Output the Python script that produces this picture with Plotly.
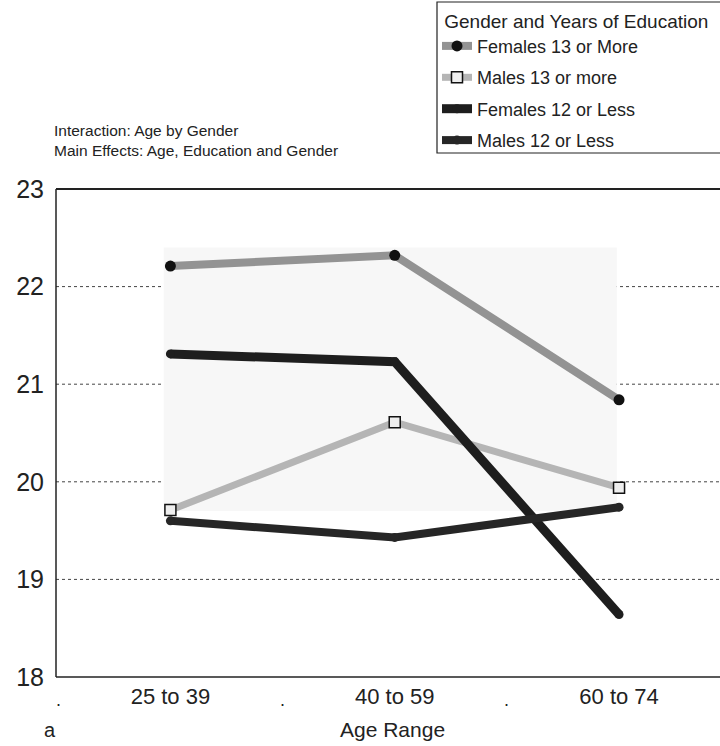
import plotly.graph_objects as go

# Age groups on the x axis
age_groups = ["25 to 39", "40 to 59", "60 to 74"]

# Mean scores per gender / education group
females_13_more = [22.21, 22.32, 20.84]
males_13_more = [19.71, 20.61, 19.94]
females_12_less = [21.31, 21.23, 18.64]
males_12_less = [19.60, 19.43, 19.74]

y_ticks = [18, 19, 20, 21, 22, 23]

FONT = "Liberation Sans, Arial, sans-serif"
W, H = 720, 746
ML, MR, MT, MB = 56, 0, 189, 69
PW, PH = W - ML - MR, H - MT - MB


def px_to_paper(px, py):
    return (px - ML) / PW, (H - MB - py) / PH


x_idx = list(range(len(age_groups)))

fig = go.Figure()

series = [
    ("Females 13 or More", females_13_more, "#939393", 8,
     dict(symbol="circle", size=11, color="#111111", line=dict(width=0))),
    ("Males 13 or more", males_13_more, "#b5b5b5", 7,
     dict(symbol="square", size=11, color="#eeeeee", line=dict(width=1.5, color="#111111"))),
    ("Females 12 or Less", females_12_less, "#1e1e1e", 9,
     dict(symbol="circle", size=9, color="#1e1e1e", line=dict(width=0))),
    ("Males 12 or Less", males_12_less, "#262626", 8,
     dict(symbol="circle", size=9, color="#262626", line=dict(width=0))),
]

for i, (name, vals, col, lw, mk) in enumerate(series):
    fig.add_trace(go.Scatter(
        x=x_idx, y=vals, name=name, mode="lines+markers",
        line=dict(color=col, width=lw),
        marker=mk, legendgroup=f"g{i}",
    ))

# Faint shaded panel behind the curves
fig.add_shape(type="rect", xref="x", yref="y", x0=-0.03, x1=1.99, y0=19.7, y1=22.4,
              fillcolor="#f7f7f7", line=dict(width=0), layer="below")

# Dotted reference lines at each whole unit
for v in [19, 20, 21, 22]:
    fig.add_shape(type="line", xref="paper", yref="y", x0=0, x1=1, y0=v, y1=v,
                  line=dict(color="#444444", width=1, dash="dot"), layer="below")

# Frame: left, bottom and top edges of the plotting area
for x0, y0, x1, y1, w in [(0, 0, 0, 1, 1.5), (0, 0, 1, 0, 1.5), (0, 1, 1, 1, 2)]:
    fig.add_shape(type="line", xref="paper", yref="paper", x0=x0, y0=y0, x1=x1, y1=y1,
                  line=dict(color="#222", width=w))

# Box around the legend
bx0, by0 = px_to_paper(437, 2)
bx1, by1 = px_to_paper(722, 153)
fig.add_shape(type="rect", xref="paper", yref="paper", x0=bx0, x1=bx1, y0=by1, y1=by0,
              line=dict(color="#222", width=1.2), fillcolor="rgba(0,0,0,0)")

# Small marks between age groups under the axis
for xv in [-0.5, 0.5, 1.5]:
    fig.add_annotation(x=xv, xref="x", y=-0.072, yref="paper", text=".",
                       showarrow=False, font=dict(family=FONT, size=18, color="#222"))

annots = [
    ("Interaction: Age by Gender<br>Main Effects: Age, Education and Gender",
     52, 141, 15.5, "left"),
    ("Age Range", 392, 729, 21, "center"),
    ("a", 50, 730, 20, "center"),
]
for text, px, py, size, anchor in annots:
    xp, yp = px_to_paper(px, py)
    fig.add_annotation(x=xp, y=yp, xref="paper", yref="paper", text=text,
                       showarrow=False, xanchor=anchor, yanchor="middle", align="left",
                       font=dict(family=FONT, size=size, color="#222"))

lx, ly = px_to_paper(437, 3)

fig.update_layout(
    template="none",
    width=W, height=H,
    margin=dict(l=ML, r=MR, t=MT, b=MB, autoexpand=False),
    paper_bgcolor="white", plot_bgcolor="white",
    font=dict(family=FONT, color="#222"),
    xaxis=dict(
        range=[-0.51, 2.45], tickmode="array", tickvals=x_idx, ticktext=age_groups,
        showgrid=False, zeroline=False, showline=False,
        ticks="", tickfont=dict(size=22), ticklabelstandoff=4,
    ),
    yaxis=dict(
        range=[18, 23], tickmode="array", tickvals=y_ticks,
        showgrid=False, zeroline=False, showline=False,
        ticks="", tickfont=dict(size=25), ticklabelstandoff=11,
    ),
    legend=dict(
        x=lx, y=ly, xanchor="left", yanchor="top",
        title=dict(text="\u00a0Gender and Years of Education", font=dict(size=19)),
        font=dict(size=18), borderwidth=0, bgcolor="rgba(0,0,0,0)",
        itemwidth=30, tracegroupgap=5,
    ),
    showlegend=True,
)

fig.write_html("out.html", config={"staticPlot": True})
